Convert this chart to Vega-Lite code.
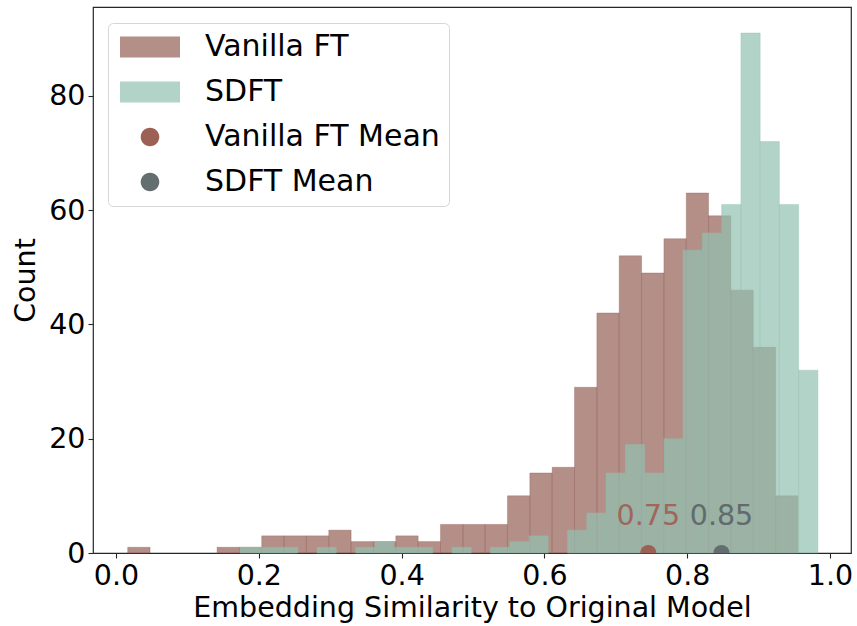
{
  "$schema": "https://vega.github.io/schema/vega-lite/v6.json",
  "width": 758,
  "height": 546,
  "autosize": {"type": "none"},
  "padding": {"left": 93, "top": 7, "right": 6, "bottom": 73},
  "config": {
    "font": "DejaVu Sans",
    "view": {"stroke": "#262626", "strokeWidth": 1.2},
    "axis": {
      "grid": false,
      "domain": false,
      "labelFont": "DejaVu Sans",
      "labelFontSize": 28.5,
      "labelColor": "#000000",
      "titleFont": "DejaVu Sans",
      "titleFontSize": 28.5,
      "titleFontWeight": "normal",
      "titleColor": "#000000",
      "tickColor": "#262626",
      "tickSize": 5,
      "tickWidth": 1.1,
      "labelPadding": 3
    }
  },
  "datasets": {
    "bins": [
      {"series": "Vanilla FT", "bin_start": 0.0164, "bin_end": 0.0477, "count": 1},
      {"series": "Vanilla FT", "bin_start": 0.1416, "bin_end": 0.1729, "count": 1},
      {"series": "Vanilla FT", "bin_start": 0.1729, "bin_end": 0.2041, "count": 1},
      {"series": "Vanilla FT", "bin_start": 0.2041, "bin_end": 0.2354, "count": 3},
      {"series": "Vanilla FT", "bin_start": 0.2354, "bin_end": 0.2667, "count": 3},
      {"series": "Vanilla FT", "bin_start": 0.2667, "bin_end": 0.2980, "count": 3},
      {"series": "Vanilla FT", "bin_start": 0.2980, "bin_end": 0.3293, "count": 4},
      {"series": "Vanilla FT", "bin_start": 0.3293, "bin_end": 0.3606, "count": 2},
      {"series": "Vanilla FT", "bin_start": 0.3606, "bin_end": 0.3919, "count": 2},
      {"series": "Vanilla FT", "bin_start": 0.3919, "bin_end": 0.4232, "count": 3},
      {"series": "Vanilla FT", "bin_start": 0.4232, "bin_end": 0.4545, "count": 2},
      {"series": "Vanilla FT", "bin_start": 0.4545, "bin_end": 0.4858, "count": 5},
      {"series": "Vanilla FT", "bin_start": 0.4858, "bin_end": 0.5170, "count": 5},
      {"series": "Vanilla FT", "bin_start": 0.5170, "bin_end": 0.5483, "count": 5},
      {"series": "Vanilla FT", "bin_start": 0.5483, "bin_end": 0.5796, "count": 10},
      {"series": "Vanilla FT", "bin_start": 0.5796, "bin_end": 0.6109, "count": 14},
      {"series": "Vanilla FT", "bin_start": 0.6109, "bin_end": 0.6422, "count": 15},
      {"series": "Vanilla FT", "bin_start": 0.6422, "bin_end": 0.6735, "count": 29},
      {"series": "Vanilla FT", "bin_start": 0.6735, "bin_end": 0.7048, "count": 42},
      {"series": "Vanilla FT", "bin_start": 0.7048, "bin_end": 0.7361, "count": 52},
      {"series": "Vanilla FT", "bin_start": 0.7361, "bin_end": 0.7674, "count": 49},
      {"series": "Vanilla FT", "bin_start": 0.7674, "bin_end": 0.7987, "count": 55},
      {"series": "Vanilla FT", "bin_start": 0.7987, "bin_end": 0.8299, "count": 63},
      {"series": "Vanilla FT", "bin_start": 0.8299, "bin_end": 0.8612, "count": 59},
      {"series": "Vanilla FT", "bin_start": 0.8612, "bin_end": 0.8925, "count": 46},
      {"series": "Vanilla FT", "bin_start": 0.8925, "bin_end": 0.9238, "count": 36},
      {"series": "Vanilla FT", "bin_start": 0.9238, "bin_end": 0.9551, "count": 10},
      {"series": "SDFT", "bin_start": 0.1737, "bin_end": 0.2007, "count": 1},
      {"series": "SDFT", "bin_start": 0.2007, "bin_end": 0.2277, "count": 1},
      {"series": "SDFT", "bin_start": 0.2277, "bin_end": 0.2546, "count": 1},
      {"series": "SDFT", "bin_start": 0.2816, "bin_end": 0.3086, "count": 1},
      {"series": "SDFT", "bin_start": 0.3356, "bin_end": 0.3626, "count": 1},
      {"series": "SDFT", "bin_start": 0.3626, "bin_end": 0.3895, "count": 2},
      {"series": "SDFT", "bin_start": 0.3895, "bin_end": 0.4165, "count": 1},
      {"series": "SDFT", "bin_start": 0.4165, "bin_end": 0.4435, "count": 1},
      {"series": "SDFT", "bin_start": 0.4705, "bin_end": 0.4975, "count": 1},
      {"series": "SDFT", "bin_start": 0.5244, "bin_end": 0.5514, "count": 1},
      {"series": "SDFT", "bin_start": 0.5514, "bin_end": 0.5784, "count": 2},
      {"series": "SDFT", "bin_start": 0.5784, "bin_end": 0.6054, "count": 3},
      {"series": "SDFT", "bin_start": 0.6324, "bin_end": 0.6593, "count": 4},
      {"series": "SDFT", "bin_start": 0.6593, "bin_end": 0.6863, "count": 7},
      {"series": "SDFT", "bin_start": 0.6863, "bin_end": 0.7133, "count": 14},
      {"series": "SDFT", "bin_start": 0.7133, "bin_end": 0.7403, "count": 19},
      {"series": "SDFT", "bin_start": 0.7403, "bin_end": 0.7673, "count": 14},
      {"series": "SDFT", "bin_start": 0.7673, "bin_end": 0.7942, "count": 20},
      {"series": "SDFT", "bin_start": 0.7942, "bin_end": 0.8212, "count": 53},
      {"series": "SDFT", "bin_start": 0.8212, "bin_end": 0.8482, "count": 56},
      {"series": "SDFT", "bin_start": 0.8482, "bin_end": 0.8752, "count": 61},
      {"series": "SDFT", "bin_start": 0.8752, "bin_end": 0.9022, "count": 91},
      {"series": "SDFT", "bin_start": 0.9022, "bin_end": 0.9291, "count": 72},
      {"series": "SDFT", "bin_start": 0.9291, "bin_end": 0.9561, "count": 61},
      {"series": "SDFT", "bin_start": 0.9561, "bin_end": 0.9831, "count": 32}
    ],
    "means": [
      {"label": "Vanilla FT Mean", "mean": 0.7455, "text": "0.75"},
      {"label": "SDFT Mean", "mean": 0.848, "text": "0.85"}
    ]
  },
  "layer": [
    {
      "data": {"name": "bins"},
      "mark": {"type": "rect", "fillOpacity": 0.7, "strokeOpacity": 0.35, "strokeWidth": 1},
      "encoding": {
        "x": {
          "field": "bin_start",
          "type": "quantitative",
          "scale": {"domain": [-0.0322, 1.0294], "nice": false, "zero": false},
          "axis": {"values": [0, 0.2, 0.4, 0.6, 0.8, 1.0], "format": ".1f", "titlePadding": 4},
          "title": "Embedding Similarity to Original Model"
        },
        "x2": {"field": "bin_end"},
        "y": {
          "field": "count",
          "type": "quantitative",
          "scale": {"domain": [0, 95.55], "nice": false},
          "axis": {"values": [0, 20, 40, 60, 80], "titlePadding": 8},
          "title": "Count"
        },
        "y2": {"datum": 0},
        "color": {
          "field": "series",
          "type": "nominal",
          "scale": {
            "domain": ["Vanilla FT", "SDFT", "Vanilla FT Mean", "SDFT Mean"],
            "range": ["#935f55", "#91c0b0", "#9c6055", "#646e70"]
          },
          "legend": {
            "orient": "none",
            "legendX": 15,
            "legendY": 16,
            "title": null,
            "labelFont": "DejaVu Sans",
            "labelFontSize": 30,
            "labelColor": "#000000",
            "labelLimit": 0,
            "symbolSize": 400,
            "symbolOffset": 18,
            "labelOffset": 40,
            "rowPadding": 15,
            "padding": 9,
            "fillColor": "rgba(255,255,255,0.8)",
            "strokeColor": "#d6d6d6",
            "cornerRadius": 5,
            "symbolStrokeWidth": 0,
            "encode": {
              "symbols": {
                "update": {
                  "shape": {"signal": "indexof(datum.value, 'Mean') >= 0 ? 'M-0.93,0A0.93,0.93 0 1,0 0.93,0A0.93,0.93 0 1,0 -0.93,0Z' : 'M-3,-1.05H3V1.05H-3Z'"},
                  "fillOpacity": {"signal": "indexof(datum.value, 'Mean') >= 0 ? 1 : 0.7"},
                  "opacity": {"value": 1},
                  "strokeWidth": {"value": 0}
                }
              }
            }
          }
        },
        "stroke": {
          "field": "series",
          "type": "nominal",
          "scale": {"domain": ["Vanilla FT", "SDFT"], "range": ["#935f55", "#91c0b0"]},
          "legend": null
        }
      }
    },
    {
      "data": {"name": "means"},
      "mark": {"type": "point", "filled": true, "size": 260, "opacity": 1, "clip": true},
      "encoding": {
        "x": {"field": "mean", "type": "quantitative"},
        "y": {"datum": 0},
        "color": {"field": "label", "type": "nominal"}
      }
    },
    {
      "data": {"name": "means"},
      "mark": {"type": "text", "font": "DejaVu Sans", "fontSize": 28.5, "align": "center", "baseline": "alphabetic", "dy": -28},
      "encoding": {
        "x": {"field": "mean", "type": "quantitative"},
        "y": {"datum": 0},
        "text": {"field": "text"},
        "fill": {
          "field": "label",
          "type": "nominal",
          "scale": {"domain": ["Vanilla FT Mean", "SDFT Mean"], "range": ["#a0665c", "#616b6d"]},
          "legend": null
        }
      }
    }
  ]
}
